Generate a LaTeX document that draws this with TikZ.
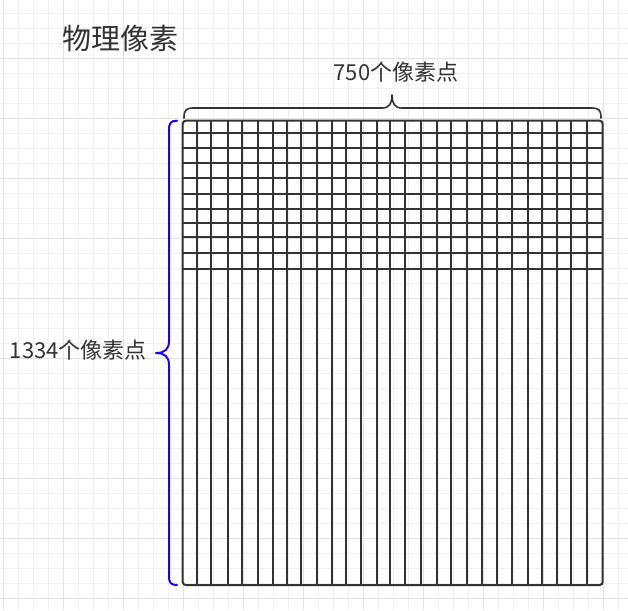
\documentclass[tikz,border=0pt]{standalone}
\usepackage{fontspec}
\setmainfont{Noto Sans CJK SC}
\definecolor{ink}{HTML}{333333}
\definecolor{gridminor}{HTML}{F0F0F0}
\definecolor{gridmajor}{HTML}{E2E2E2}
\definecolor{bracecol}{HTML}{1A00FF}
\tikzset{
  minorline/.style={draw=gridminor, line width=1pt},
  majorline/.style={draw=gridmajor, line width=1pt},
  cellline/.style={draw=ink, line width=2pt},
  bracetop/.style={draw=ink, line width=1.6pt, line cap=round, line join=round},
  braceleft/.style={draw=bracecol, line width=2pt, line cap=round, line join=round},
  labeltext/.style={text=ink, inner sep=0pt, font=\fontsize{22pt}{26pt}\selectfont},
  titletext/.style={text=ink, inner sep=0pt, font=\fontsize{29pt}{34pt}\selectfont}
}
\begin{document}
\begin{tikzpicture}[x=1pt,y=-1pt]
\useasboundingbox[fill=white] (0,0) rectangle (628,610);
% background grid
\foreach \x in {3.3,18.3,...,628} \draw[minorline] (\x,0) -- (\x,610);
\foreach \y in {13.3,28.3,...,610} \draw[minorline] (0,\y) -- (628,\y);
\foreach \x in {3.3,63.3,...,628} \draw[majorline] (\x,0) -- (\x,610);
\foreach \y in {58.3,118.3,...,610} \draw[majorline] (0,\y) -- (628,\y);

% grid corners
\coordinate (nw) at (182.7,120.7);
\coordinate (se) at (602.7,585);

% vertical cell lines
\foreach \x in {196.7,210.7,227.7,242,258,272.7,286.7,301,317,332,346,360.7,376.7,389.7,404.7,420.7,436.7,451.3,466.7,481.7,497.3,511.7,527.7,542.3,557.3,571.3,587}
  \draw[cellline] (\x,120.7) -- (\x,585);
% horizontal cell lines
\foreach \y in {132.7,148.3,163.3,178.3,194.3,208.5,223,237.3,253.3,269}
  \draw[cellline] (182.7,\y) -- (602.7,\y);
% outer frame
\draw[cellline, rounded corners=3pt] (nw) rectangle (se);

% top brace
\coordinate (tl) at (184,118);
\coordinate (tr) at (601,118);
\coordinate (tt) at (392,95);
\draw[bracetop] (tl) .. controls (184,110) and (186,108) .. (194,108) -- (382,108)
  .. controls (389,108) and (392,104) .. (tt)
  .. controls (392,104) and (395,108) .. (402,108) -- (591,108)
  .. controls (599,108) and (601,110) .. (tr);

% left brace
\coordinate (lt) at (177,120.7);
\coordinate (lb) at (177,585);
\coordinate (lm) at (156,353);
\draw[braceleft] (lt) .. controls (171,120.7) and (169,123) .. (169,130) -- (169,341)
  .. controls (169,349) and (165,353) .. (lm)
  .. controls (165,353) and (169,357) .. (169,365) -- (169,576)
  .. controls (169,583) and (171,585) .. (lb);

% labels
\node[titletext] (title) at (120,38) {物理像素};
\node[labeltext] (wlabel) at (396,72) {750个像素点};
\node[labeltext, anchor=east] (hlabel) at (147,350) {1334个像素点};
\end{tikzpicture}
\end{document}
